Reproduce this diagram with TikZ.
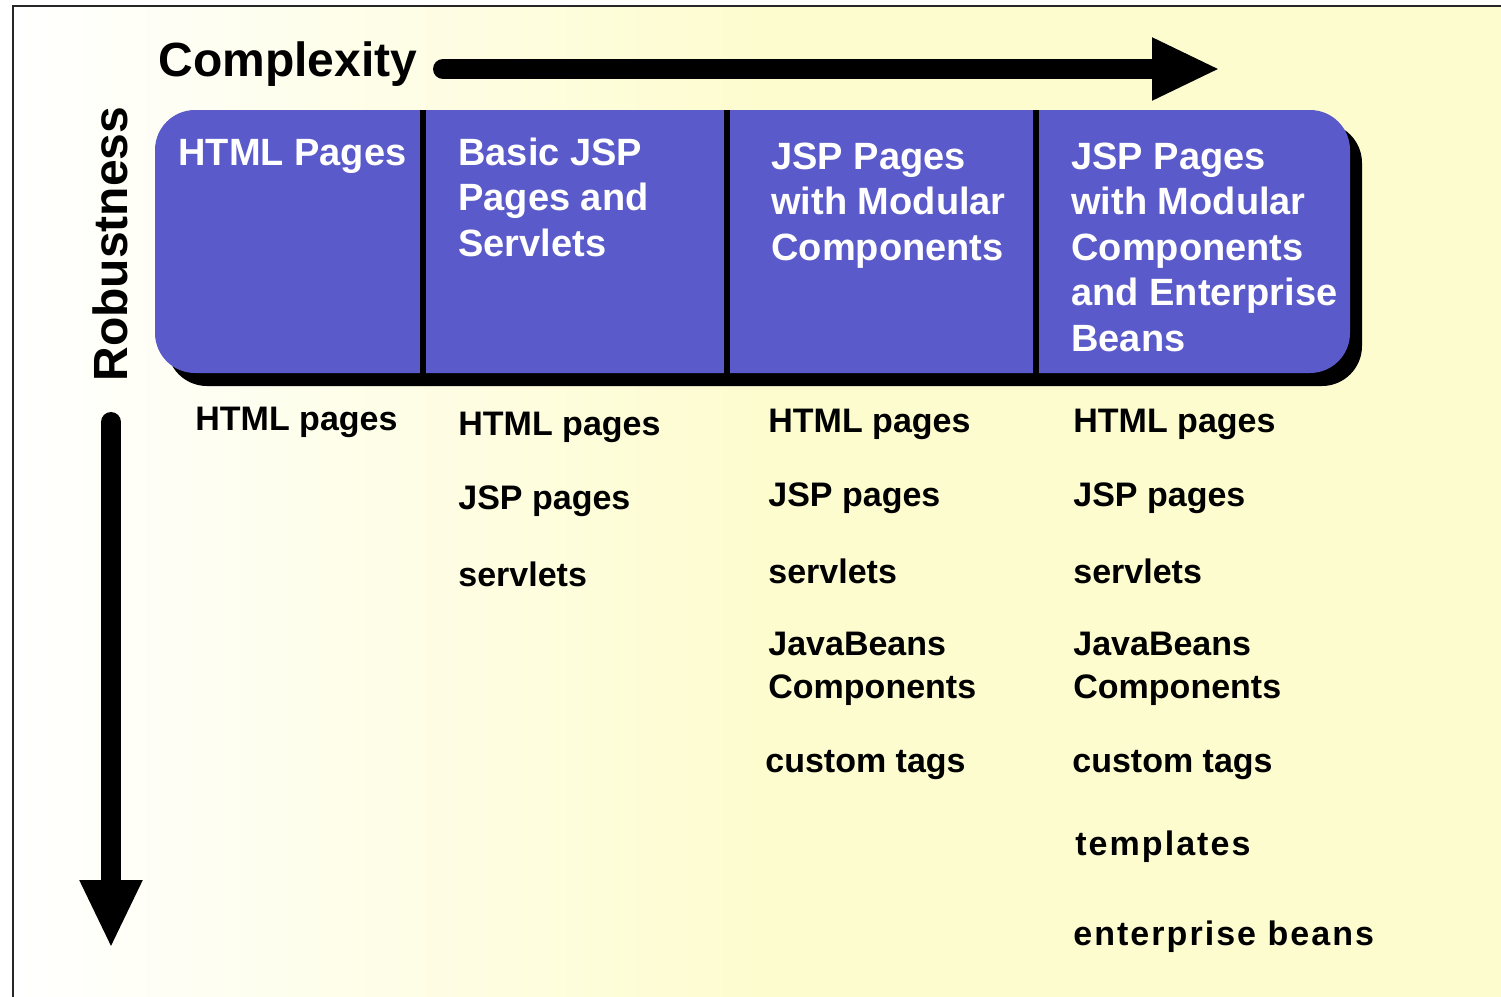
\documentclass[tikz,border=0pt]{standalone}
\usepackage{fontspec}
\setmainfont{Liberation Sans}
\usetikzlibrary{arrows.meta}
\definecolor{bandblue}{RGB}{90,90,202}
\definecolor{paper}{RGB}{253,252,207}
% multi-line nodes below are placed by the baseline of their last line
\tikzset{
  head/.style={font=\bfseries\fontsize{19}{22.75}\selectfont, text=white,
    align=left, anchor=base west, inner sep=0pt},
  item/.style={font=\bfseries\fontsize{17}{21.5}\selectfont, text=black,
    align=left, anchor=base west, inner sep=0pt},
  wideitem/.style={item, font=\bfseries\fontsize{17}{21.5}\selectfont\addfontfeature{LetterSpace=6.0}},
  axislabel/.style={font=\bfseries\fontsize{24}{28}\selectfont,
    anchor=base west, inner sep=0pt},
  bigarrow/.style={line width=10pt, line cap=round,
    -{Triangle[length=34pt,width=29pt]}},
  divider/.style={line width=3pt, black}
}
\begin{document}
\begin{tikzpicture}[x=0.5pt,y=-0.5pt]
\useasboundingbox (0,0) rectangle (1501,997);
% paper: white on the left fading into pale yellow
\fill[white] (0,0) rectangle (1501,997);
\shade[left color=white, right color=paper] (13,6) rectangle (760,997);
\fill[paper] (760,6) rectangle (1501,997);
\draw[line width=1pt, black!85] (13,997) -- (13,6) -- (1501,6);

% axis labels and arrows
\node[axislabel] (cx) at (158,76) {Complexity};
\node[axislabel, rotate=90] (rb) at (127,382) {Robustness};
\coordinate (cxs) at (443,69);
\coordinate (cxe) at (1220,69);
\coordinate (rbs) at (111,422);
\coordinate (rbe) at (111,948);
\draw[bigarrow] (cxs) -- (cxe);
\draw[bigarrow] (rbs) -- (rbe);

% band of stages with its drop shadow
\fill[black, rounded corners=20pt] (167,123) rectangle (1362,386);
\fill[bandblue, rounded corners=20pt] (155,110) rectangle (1350,373);
\draw[divider] (423,110) -- (423,380);
\draw[divider] (727,110) -- (727,380);
\draw[divider] (1036,110) -- (1036,380);

\node[head] (h1) at (178,165) {HTML Pages};
\node[head] (h2) at (458,256) {Basic JSP\\Pages and\\Servlets};
\node[head] (h3) at (771,260) {JSP Pages\\with Modular\\Components};
\node[head] (h4) at (1071,351) {JSP Pages\\with Modular\\Components\\and Enterprise\\Beans};

% stage 1
\node[item] (a1) at (195,430) {HTML pages};
% stage 2
\node[item] (b1) at (458,435) {HTML pages};
\node[item] (b2) at (458,509) {JSP pages};
\node[item] (b3) at (458,586) {servlets};
% stage 3
\node[item] (c1) at (768,432) {HTML pages};
\node[item] (c2) at (768,506) {JSP pages};
\node[item] (c3) at (768,583) {servlets};
\node[item] (c4) at (768,698) {JavaBeans\\Components};
\node[item] (c5) at (765,772) {custom tags};
% stage 4
\node[item] (d1) at (1073,432) {HTML pages};
\node[item] (d2) at (1073,506) {JSP pages};
\node[item] (d3) at (1073,583) {servlets};
\node[item] (d4) at (1073,698) {JavaBeans\\Components};
\node[item] (d5) at (1072,772) {custom tags};
\node[wideitem] (d6) at (1075,855) {templates};
\node[wideitem] (d7) at (1073,945) {enterprise beans};
\end{tikzpicture}
\end{document}
